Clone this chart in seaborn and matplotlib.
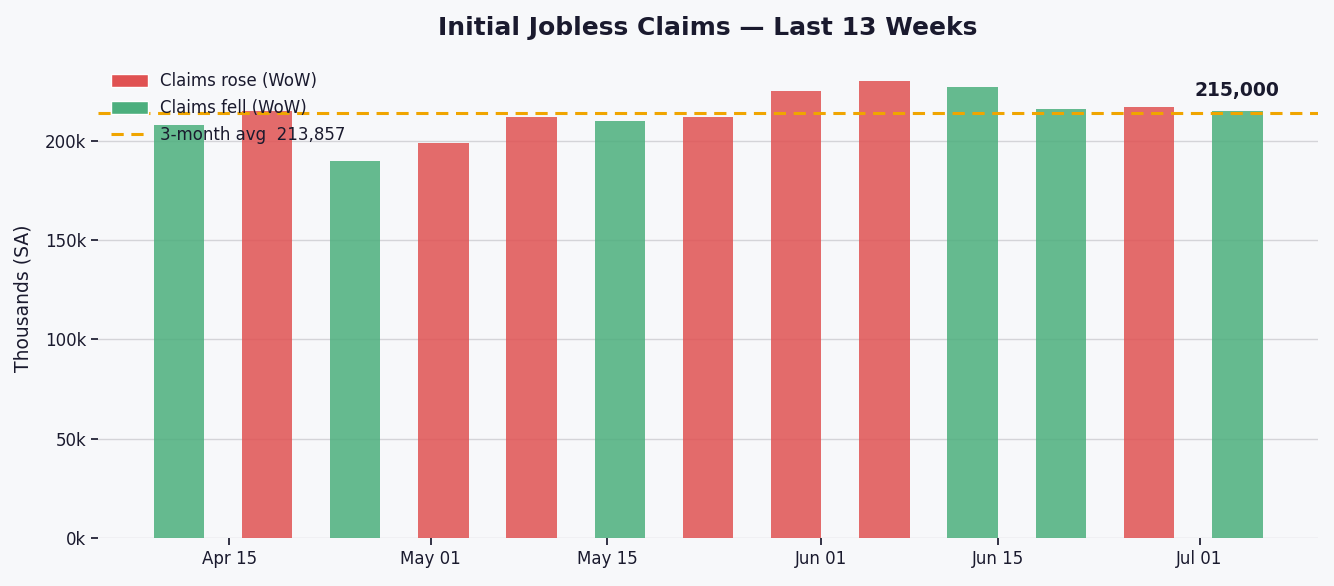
import pandas as pd
import numpy as np
import matplotlib
matplotlib.use("Agg")
import matplotlib.pyplot as plt
import matplotlib.dates as mdates
from matplotlib.patches import Patch
from matplotlib.lines import Line2D
from matplotlib.ticker import FuncFormatter
import seaborn as sns

# --- Data (weekly initial claims, SA) ---
week_ending = ["2026-04-11", "2026-04-18", "2026-04-25", "2026-05-02", "2026-05-09",
               "2026-05-16", "2026-05-23", "2026-05-30", "2026-06-06", "2026-06-13",
               "2026-06-20", "2026-06-27", "2026-07-04"]
claims = [208000, 215000, 190000, 199000, 212000, 210000, 212000,
          225000, 230000, 227000, 216000, 217000, 215000]
prior_week = 218000  # week before the window, used for WoW + 3-month avg

TITLE = "Initial Jobless Claims \u2014 Last 13 Weeks"
LABEL_ROSE = "Claims rose (WoW)"
LABEL_FELL = "Claims fell (WoW)"

# --- Style ---
BG = "#f7f8fa"
INK = "#1a1a2e"
RED = "#e05252"
GREEN = "#4caf7d"
ORANGE = "#f0a500"

sns.set_theme(style="whitegrid")
plt.rcParams.update({
    "figure.facecolor": BG, "axes.facecolor": BG,
    "grid.color": "#d4d4d8", "grid.linewidth": 1.0,
    "xtick.bottom": True, "ytick.left": True,
    "xtick.major.size": 5, "ytick.major.size": 5,
    "xtick.color": INK, "ytick.color": INK,
    "text.color": INK, "axes.labelcolor": INK,
})
plt.rcParams["font.family"] = ["DejaVu Sans"]

df = pd.DataFrame({"date": pd.to_datetime(week_ending), "claims": claims})
prev = [prior_week] + claims[:-1]
df["dir"] = np.where(df["claims"] > np.array(prev), "rose", "fell")
df["x"] = mdates.date2num(df["date"])
avg = np.mean([prior_week] + claims)

fig, ax = plt.subplots(figsize=(13.34, 5.86), dpi=100)
fig.subplots_adjust(left=0.0735, right=0.988, bottom=0.082, top=0.9)

sns.barplot(data=df, x="x", y="claims", hue="dir", native_scale=True,
            palette={"rose": RED, "fell": GREEN}, dodge=False, width=4 / 7,
            saturation=1, alpha=0.85, linewidth=0, legend=False, ax=ax)

ax.axhline(avg, color=ORANGE, lw=2.2, ls=(0, (4, 2.5)), zorder=3)

last = df.iloc[-1]
ax.annotate(f"{last['claims']:,.0f}", xy=(last["x"], last["claims"]),
            xytext=(0, 8), textcoords="offset points", ha="center", va="bottom",
            fontsize=13.5, fontweight="bold", color=INK)

ax.set_xlim(df["x"].iloc[0] - 6.4, df["x"].iloc[-1] + 6.4)
ax.set_ylim(0, max(claims) * 1.05)
ax.xaxis.set_major_locator(mdates.DayLocator(bymonthday=[1, 15]))
ax.xaxis.set_major_formatter(mdates.DateFormatter("%b %d"))
ax.yaxis.set_major_formatter(FuncFormatter(lambda v, _: f"{v / 1000:.0f}k"))
ax.tick_params(axis="both", labelsize=12)
ax.grid(axis="x", visible=False)
ax.grid(axis="y", visible=True)
for s in ax.spines.values():
    s.set_visible(False)

ax.set_title(TITLE, fontsize=18, fontweight="bold", color=INK, pad=17)
ax.set_xlabel("")
ax.set_ylabel("Thousands (SA)", fontsize=13.5, labelpad=9)

handles = [Patch(facecolor=RED, label=LABEL_ROSE),
           Patch(facecolor=GREEN, label=LABEL_FELL),
           Line2D([0], [0], color=ORANGE, lw=2.2, ls=(0, (4, 2.5)),
                  label=f"3-month avg  {avg:,.0f}")]
ax.legend(handles=handles, loc="upper left", frameon=False, fontsize=12,
          handlelength=2.2, handleheight=0.85, labelspacing=0.55,
          handletextpad=0.7, borderaxespad=0.4)

fig.savefig("out.png", dpi=100, facecolor=BG)
